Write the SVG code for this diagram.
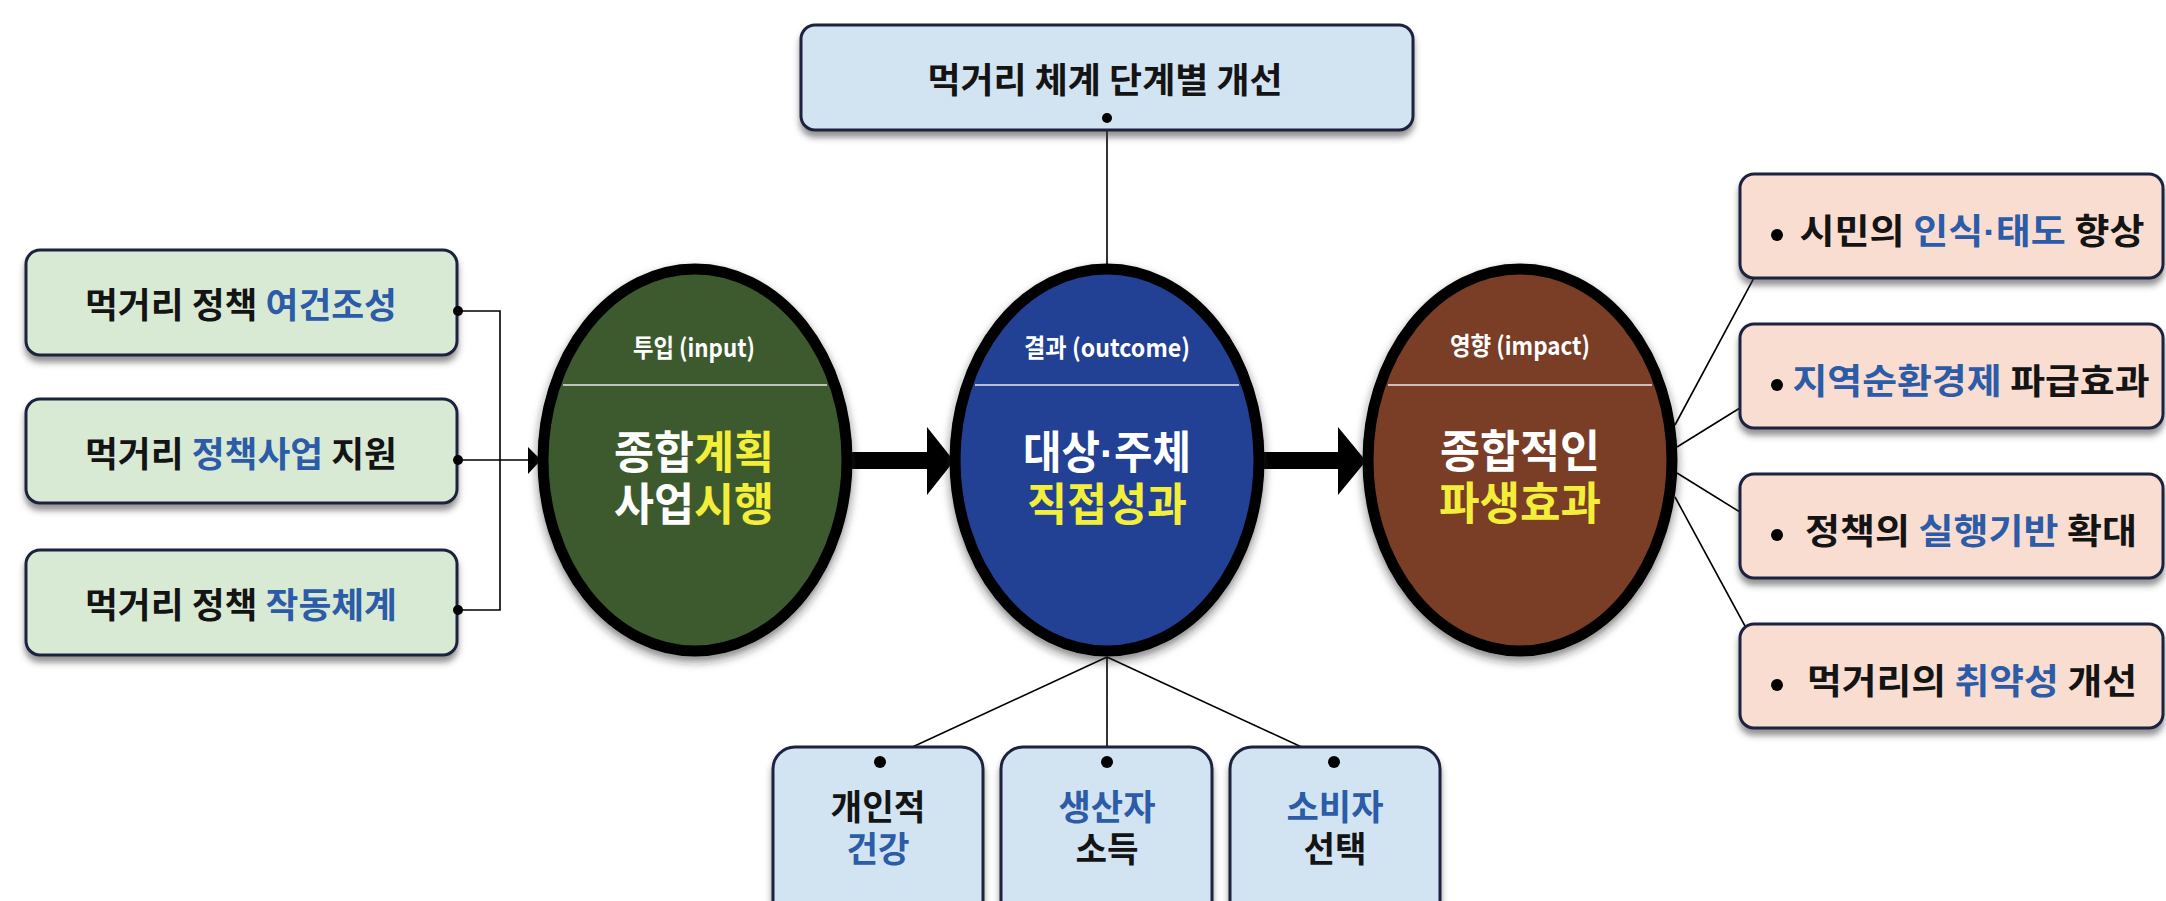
<svg xmlns="http://www.w3.org/2000/svg" width="2166" height="901" viewBox="0 0 2166 901">
<defs>
<filter id="sh" x="-5%" y="-20%" width="110%" height="150%"><feDropShadow dx="0" dy="6" stdDeviation="3" flood-color="#3a3a3a" flood-opacity="0.55"/></filter>
<filter id="esh" x="-15%" y="-15%" width="130%" height="135%"><feDropShadow dx="0" dy="5" stdDeviation="5" flood-color="#222" flood-opacity="0.55"/></filter>
</defs>
<style>
.box{stroke:#1b2340;stroke-width:3}
.g{fill:#d9ead4}
.b{fill:#d2e3f1}
.p{fill:#f8ddd0}
text{font-family:"Noto Sans CJK KR","Noto Sans",sans-serif;font-weight:bold}
.t{fill:#141414;font-size:35px;text-anchor:middle}
.hl{fill:#2c5ba8}
.ell{stroke:#000;stroke-width:11}
.lbl{fill:#fff;font-size:25px;text-anchor:middle}
.main{fill:#fff;font-size:45px;text-anchor:middle}
.y{fill:#f2ee3a}
.md{font-family:"Liberation Sans",sans-serif}
.sep{stroke:#e8e8e8;stroke-width:1.5}
.ln{stroke:#000;stroke-width:1.6;fill:none}
.dot{fill:#000}
</style>

<g id="connectors">
  <path class="ln" d="M458 311H500V610H458M458 460H532"/>
  <polygon points="528,447 541,460 528,474" fill="#000"/>
  <rect x="850" y="452" width="80" height="17" fill="#000"/>
  <polygon points="927,427 954,461 927,495" fill="#000"/>
  <rect x="1263" y="452" width="78" height="17" fill="#000"/>
  <polygon points="1338,427 1366,461 1338,495" fill="#000"/>
  <path class="ln" d="M1107 118V264"/>
  <path class="ln" d="M1107 657L880 762M1107 657V762M1107 657L1334 762"/>
  <path class="ln" d="M1675 425L1777 235M1677 447L1777 385M1677 473L1777 535M1675 497L1777 685"/>
</g>

<g id="left1">
  <rect class="box g" x="26" y="250" width="431" height="105" rx="14" filter="url(#sh)"/>
  <text class="t" x="241" y="318" textLength="312" lengthAdjust="spacingAndGlyphs">먹거리 정책 <tspan class="hl">여건조성</tspan></text>
  <circle class="dot" cx="458" cy="311" r="5"/>
</g>
<g id="left2">
  <rect class="box g" x="26" y="399" width="431" height="104" rx="14" filter="url(#sh)"/>
  <text class="t" x="241" y="467" textLength="312" lengthAdjust="spacingAndGlyphs">먹거리 <tspan class="hl">정책사업</tspan> 지원</text>
  <circle class="dot" cx="458" cy="460" r="5"/>
</g>
<g id="left3">
  <rect class="box g" x="26" y="550" width="431" height="105" rx="14" filter="url(#sh)"/>
  <text class="t" x="241" y="618" textLength="312" lengthAdjust="spacingAndGlyphs">먹거리 정책 <tspan class="hl">작동체계</tspan></text>
  <circle class="dot" cx="458" cy="610" r="5"/>
</g>

<g id="top">
  <rect class="box b" x="801" y="25" width="612" height="105" rx="14" filter="url(#sh)"/>
  <text class="t" x="1105" y="93" textLength="355" lengthAdjust="spacingAndGlyphs">먹거리 체계 단계별 개선</text>
  <circle class="dot" cx="1107" cy="118" r="5"/>
</g>

<g id="input">
  <ellipse class="ell" cx="695" cy="460" rx="152" ry="191" fill="#3e5a2f" filter="url(#esh)"/>
  <text class="lbl" x="694" y="357" textLength="122" lengthAdjust="spacingAndGlyphs">투입 (input)</text>
  <line class="sep" x1="563" y1="385" x2="827" y2="385"/>
  <text class="main" x="694" y="469" textLength="160" lengthAdjust="spacingAndGlyphs">종합<tspan class="y">계획</tspan></text>
  <text class="main" x="694" y="521" textLength="160" lengthAdjust="spacingAndGlyphs">사업<tspan class="y">시행</tspan></text>
</g>

<g id="outcome">
  <ellipse class="ell" cx="1107" cy="460" rx="152" ry="191" fill="#233f94" filter="url(#esh)"/>
  <text class="lbl" x="1107" y="357" textLength="166" lengthAdjust="spacingAndGlyphs">결과 (outcome)</text>
  <line class="sep" x1="975" y1="385" x2="1239" y2="385"/>
  <text class="main" x="1107" y="469" textLength="168" lengthAdjust="spacingAndGlyphs">대상<tspan class="md">·</tspan>주체</text>
  <text class="main y" x="1107" y="521" textLength="160" lengthAdjust="spacingAndGlyphs">직접성과</text>
</g>

<g id="impact">
  <ellipse class="ell" cx="1520" cy="460" rx="152" ry="191" fill="#7a3d27" filter="url(#esh)"/>
  <text class="lbl" x="1520" y="355" textLength="140" lengthAdjust="spacingAndGlyphs">영향 (impact)</text>
  <line class="sep" x1="1388" y1="385" x2="1652" y2="385"/>
  <text class="main" x="1520" y="468" textLength="160" lengthAdjust="spacingAndGlyphs">종합적인</text>
  <text class="main y" x="1520" y="520" textLength="162" lengthAdjust="spacingAndGlyphs">파생효과</text>
</g>

<g id="right1">
  <rect class="box p" x="1740" y="174" width="423" height="104" rx="14" filter="url(#sh)"/>
  <text class="t" x="1972" y="244" textLength="345" lengthAdjust="spacingAndGlyphs">시민의 <tspan class="hl">인식<tspan class="md">·</tspan>태도</tspan> 향상</text>
  <circle class="dot" cx="1777" cy="235" r="6"/>
</g>
<g id="right2">
  <rect class="box p" x="1740" y="324" width="423" height="104" rx="14" filter="url(#sh)"/>
  <text class="t" x="1971" y="394" textLength="357" lengthAdjust="spacingAndGlyphs"><tspan class="hl">지역순환경제</tspan> 파급효과</text>
  <circle class="dot" cx="1777" cy="385" r="6"/>
</g>
<g id="right3">
  <rect class="box p" x="1740" y="474" width="423" height="104" rx="14" filter="url(#sh)"/>
  <text class="t" x="1971" y="544" textLength="332" lengthAdjust="spacingAndGlyphs">정책의 <tspan class="hl">실행기반</tspan> 확대</text>
  <circle class="dot" cx="1777" cy="535" r="6"/>
</g>
<g id="right4">
  <rect class="box p" x="1740" y="624" width="423" height="104" rx="14" filter="url(#sh)"/>
  <text class="t" x="1972" y="694" textLength="330" lengthAdjust="spacingAndGlyphs">먹거리의 <tspan class="hl">취약성</tspan> 개선</text>
  <circle class="dot" cx="1777" cy="685" r="6"/>
</g>

<g id="bottom1">
  <rect class="box b" x="773" y="747" width="210" height="180" rx="22" filter="url(#sh)"/>
  <text class="t" x="878" y="820" textLength="95" lengthAdjust="spacingAndGlyphs">개인적</text>
  <text class="t hl" x="878" y="862" textLength="63" lengthAdjust="spacingAndGlyphs">건강</text>
  <circle class="dot" cx="880" cy="762" r="6"/>
</g>
<g id="bottom2">
  <rect class="box b" x="1001" y="747" width="211" height="180" rx="22" filter="url(#sh)"/>
  <text class="t hl" x="1107" y="820" textLength="97" lengthAdjust="spacingAndGlyphs">생산자</text>
  <text class="t" x="1107" y="862" textLength="63" lengthAdjust="spacingAndGlyphs">소득</text>
  <circle class="dot" cx="1107" cy="762" r="6"/>
</g>
<g id="bottom3">
  <rect class="box b" x="1230" y="747" width="210" height="180" rx="22" filter="url(#sh)"/>
  <text class="t hl" x="1335" y="820" textLength="97" lengthAdjust="spacingAndGlyphs">소비자</text>
  <text class="t" x="1335" y="862" textLength="63" lengthAdjust="spacingAndGlyphs">선택</text>
  <circle class="dot" cx="1334" cy="762" r="6"/>
</g>
</svg>
